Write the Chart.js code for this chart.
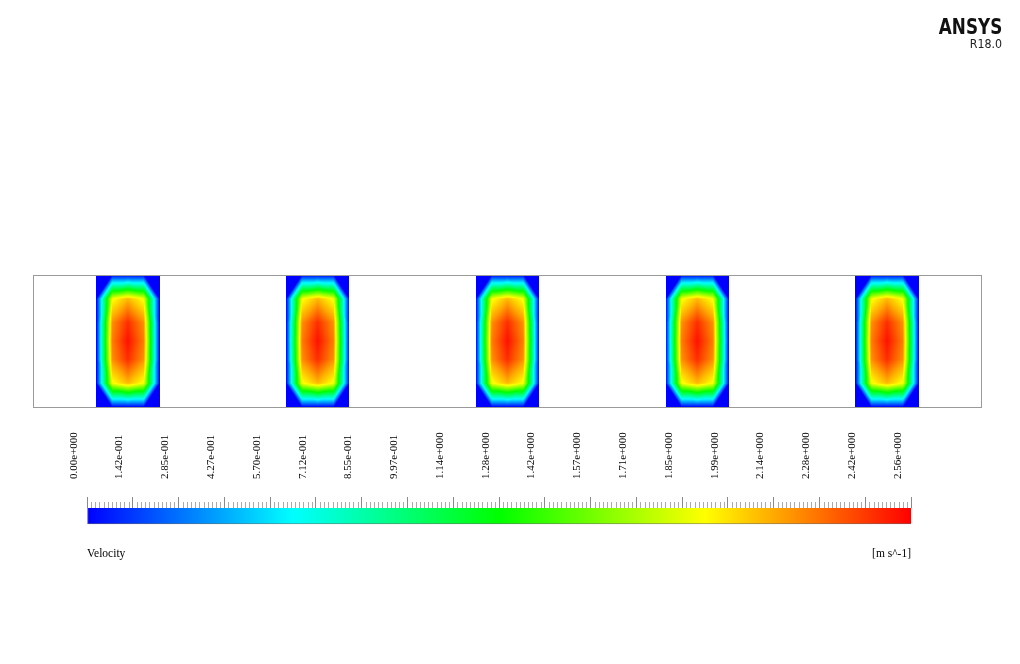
<!DOCTYPE html>
<html>
<head>
<meta charset="utf-8">
<script src="https://cdn.jsdelivr.net/npm/chart.js@4.4.1/dist/chart.umd.min.js"></script>
<style>
  html, body { margin: 0; padding: 0; background: #fff; }
  #wrap { position: relative; width: 1020px; height: 664px; overflow: hidden; }
  #wrap canvas { position: absolute; left: 0; top: 0; }
  .logo { position: absolute; right: 18px; text-align: right; color: #111; white-space: nowrap;
          font-family: "DejaVu Sans", sans-serif; transform-origin: right top; }
  #brand { top: 17px; font-size: 21px; font-weight: bold; line-height: 1; transform: scaleX(0.8); }
  #release { top: 38px; font-size: 12px; line-height: 1; color: #222; transform: scaleX(0.92); }
</style>
</head>
<body>
<div id="wrap">
  <canvas id="field-chart" width="1020" height="664"></canvas>
  <canvas id="legend-chart" width="1020" height="664"></canvas>
  <div class="logo" id="brand">ANSYS</div>
  <div class="logo" id="release">R18.0</div>
</div>
<script>
// channel with five blocks, x in block widths
const channelLength = 15;
const blockStarts = [1, 4, 7, 10, 13];
const blockWidth = 1;

// mesh nodes inside one block (fractions of width / height from the top)
const nodeFracX = [0, 0.25, 0.5, 0.75, 1];
const nodeFracY = [0, 0.18, 0.36, 0.5, 0.64, 0.82, 1];

// nodal velocity [m s^-1], one row per nodeFracY entry
const velRow0 = [0, 0, 0, 0, 0];
const velRow1 = [0, 1.9, 2.1, 1.9, 0];
const velRow2 = [0, 2.2, 2.45, 2.2, 0];
const velRow3 = [0, 2.25, 2.52, 2.25, 0];
const velRow4 = [0, 2.2, 2.45, 2.2, 0];
const velRow5 = [0, 1.9, 2.1, 1.9, 0];
const velRow6 = [0, 0, 0, 0, 0];
const velRows = [velRow0, velRow1, velRow2, velRow3, velRow4, velRow5, velRow6];

// legend range and labels
const vMin = 0;
const vMax = 2.5636;
const tickLabels = ['0.00e+000', '1.42e-001', '2.85e-001', '4.27e-001', '5.70e-001',
    '7.12e-001', '8.55e-001', '9.97e-001', '1.14e+000', '1.28e+000', '1.42e+000',
    '1.57e+000', '1.71e+000', '1.85e+000', '1.99e+000', '2.14e+000', '2.28e+000',
    '2.42e+000', '2.56e+000'];
const minorPerMajor = 11;
const varName = 'Velocity';
const varUnits = '[m s^-1]';

// rainbow map as in CFD-Post
const rainbow = [[0, 0, 255], [0, 255, 255], [0, 255, 0], [255, 255, 0], [255, 0, 0]];

function colorAt(v) {
    let f = (v - vMin) / (vMax - vMin);
    f = Math.max(0, Math.min(1, f)) * (rainbow.length - 1);
    const k = Math.min(rainbow.length - 2, Math.floor(f));
    const t = f - k;
    const a = rainbow[k], b = rainbow[k + 1];
    return [a[0] + (b[0] - a[0]) * t, a[1] + (b[1] - a[1]) * t, a[2] + (b[2] - a[2]) * t];
}

// one dataset per block, nodes in row order
const fieldDatasets = blockStarts.map((x0, b) => {
    const data = [];
    velRows.forEach((row, j) => {
        row.forEach((v, i) => {
            data.push({ x: x0 + nodeFracX[i] * blockWidth, y: 1 - nodeFracY[j], v: v });
        });
    });
    return { label: 'block ' + (b + 1), data: data, pointRadius: 0, showLine: false };
});

// linear interpolation on triangles, diagonals cut the outer corners
function cellValue(node, i, j, s, t, nx, ny) {
    const tl = node(i, j), tr = node(i + 1, j), bl = node(i, j + 1), br = node(i + 1, j + 1);
    const anti = (i < nx / 2) === (j < ny / 2);
    if (anti) {
        if (s + t <= 1) return tl + s * (tr - tl) + t * (bl - tl);
        return br + (1 - s) * (bl - br) + (1 - t) * (tr - br);
    }
    if (s >= t) return tl + s * (tr - tl) + t * (br - tr);
    return tl + t * (bl - tl) + s * (br - bl);
}

const contourPlugin = {
    id: 'contour',
    beforeDatasetsDraw(chart) {
        const xs = chart.scales.x, ys = chart.scales.y;
        const nx = nodeFracX.length, ny = nodeFracY.length;
        chart.data.datasets.forEach(ds => {
            const px = [], py = [];
            for (let i = 0; i < nx; i++) px.push(xs.getPixelForValue(ds.data[i].x));
            for (let j = 0; j < ny; j++) py.push(ys.getPixelForValue(ds.data[j * nx].y));
            const node = (i, j) => ds.data[j * nx + i].v;
            const x0 = Math.round(px[0]), x1 = Math.round(px[nx - 1]);
            const y0 = Math.round(py[0]), y1 = Math.round(py[ny - 1]);
            const w = x1 - x0, h = y1 - y0;
            const off = document.createElement('canvas');
            off.width = w; off.height = h;
            const octx = off.getContext('2d');
            const img = octx.createImageData(w, h);
            for (let r = 0; r < h; r++) {
                const yy = y0 + r + 0.5;
                let j = 0;
                while (j < ny - 2 && yy > py[j + 1]) j++;
                const t = Math.max(0, Math.min(1, (yy - py[j]) / (py[j + 1] - py[j])));
                for (let c = 0; c < w; c++) {
                    const xx = x0 + c + 0.5;
                    let i = 0;
                    while (i < nx - 2 && xx > px[i + 1]) i++;
                    const s = Math.max(0, Math.min(1, (xx - px[i]) / (px[i + 1] - px[i])));
                    const col = colorAt(cellValue(node, i, j, s, t, nx - 1, ny - 1));
                    const p = (r * w + c) * 4;
                    img.data[p] = col[0];
                    img.data[p + 1] = col[1];
                    img.data[p + 2] = col[2];
                    img.data[p + 3] = 255;
                }
            }
            octx.putImageData(img, 0, 0);
            chart.ctx.drawImage(off, x0, y0);
        });
        // channel outline
        const a = chart.chartArea;
        const ctx = chart.ctx;
        ctx.save();
        ctx.strokeStyle = '#9a9a9a';
        ctx.lineWidth = 1;
        ctx.strokeRect(a.left + 0.5, a.top + 0.5, a.right - a.left - 1, a.bottom - a.top);
        ctx.restore();
    }
};

new Chart(document.getElementById('field-chart').getContext('2d'), {
    type: 'scatter',
    data: { datasets: fieldDatasets },
    options: {
        responsive: false,
        animation: false,
        events: [],
        layout: { padding: { left: 33, right: 38, top: 275, bottom: 257 } },
        scales: {
            x: { type: 'linear', min: 0, max: channelLength, display: false },
            y: { type: 'linear', min: 0, max: 1, display: false }
        },
        plugins: { legend: { display: false }, tooltip: { enabled: false } }
    },
    plugins: [contourPlugin]
});

// legend bar
function barGradient(c) {
    const a = c.chart.chartArea;
    if (!a) return '#00f';
    const g = c.chart.ctx.createLinearGradient(a.left, 0, a.right, 0);
    rainbow.forEach((rgb, k) => g.addColorStop(k / (rainbow.length - 1), 'rgb(' + rgb.join(',') + ')'));
    return g;
}

const serif = '"Liberation Serif", "Times New Roman", serif';
const nameFont = { family: serif, size: 11.5 };
const namePadding = { top: 15, bottom: 38 };

const legendTextPlugin = {
    id: 'legendText',
    afterDraw(chart) {
        const xs = chart.scales.x;
        const a = chart.chartArea;
        const ctx = chart.ctx;
        ctx.save();
        // minor ticks
        ctx.strokeStyle = '#aaaaaa';
        ctx.lineWidth = 1;
        const n = (tickLabels.length - 1) * minorPerMajor;
        for (let k = 1; k < n; k++) {
            if (k % minorPerMajor === 0) continue;
            const x = Math.round(xs.getPixelForValue(vMin + k * (vMax - vMin) / n)) + 0.5;
            ctx.beginPath();
            ctx.moveTo(x, a.top - 6);
            ctx.lineTo(x, a.top);
            ctx.stroke();
        }
        // units, on the same line as the axis title
        const t = chart.scales.x2;
        ctx.fillStyle = '#000';
        ctx.font = nameFont.size + 'px ' + serif;
        ctx.textBaseline = 'middle';
        ctx.textAlign = 'right';
        ctx.fillText(varUnits, a.right, t.bottom - namePadding.bottom - nameFont.size * 1.2 / 2);
        ctx.restore();
    }
};

new Chart(document.getElementById('legend-chart').getContext('2d'), {
    type: 'bar',
    data: {
        labels: [varName],
        datasets: [{
            data: [[vMin, vMax]],
            xAxisID: 'x',
            backgroundColor: barGradient,
            borderColor: '#6a6a6a',
            borderWidth: { left: 1, bottom: 1, top: 0, right: 0 },
            borderSkipped: false,
            barPercentage: 1,
            categoryPercentage: 1
        }]
    },
    options: {
        indexAxis: 'y',
        responsive: false,
        animation: false,
        events: [],
        layout: { padding: { left: 87, right: 109, top: 417, bottom: 65 } },
        scales: {
            y: { display: false },
            x: {
                type: 'linear',
                position: 'top',
                min: vMin,
                max: vMax,
                afterBuildTicks: s => {
                    s.ticks = tickLabels.map((l, i) => ({ value: vMin + i * (vMax - vMin) / (tickLabels.length - 1) }));
                },
                ticks: {
                    autoSkip: false,
                    minRotation: 90,
                    maxRotation: 90,
                    padding: 18,
                    color: '#000',
                    font: { family: serif, size: 11 },
                    callback: (val, i) => tickLabels[i]
                },
                grid: { drawOnChartArea: false, tickLength: 11, color: '#8a8a8a' },
                border: { display: false }
            },
            x2: {
                type: 'linear',
                position: 'bottom',
                min: vMin,
                max: vMax,
                ticks: { display: false },
                grid: { display: false },
                border: { display: false },
                title: {
                    display: true,
                    text: varName,
                    align: 'start',
                    color: '#000',
                    font: nameFont,
                    padding: namePadding
                }
            }
        },
        plugins: { legend: { display: false }, tooltip: { enabled: false } }
    },
    plugins: [legendTextPlugin]
});
</script>
</body>
</html>
